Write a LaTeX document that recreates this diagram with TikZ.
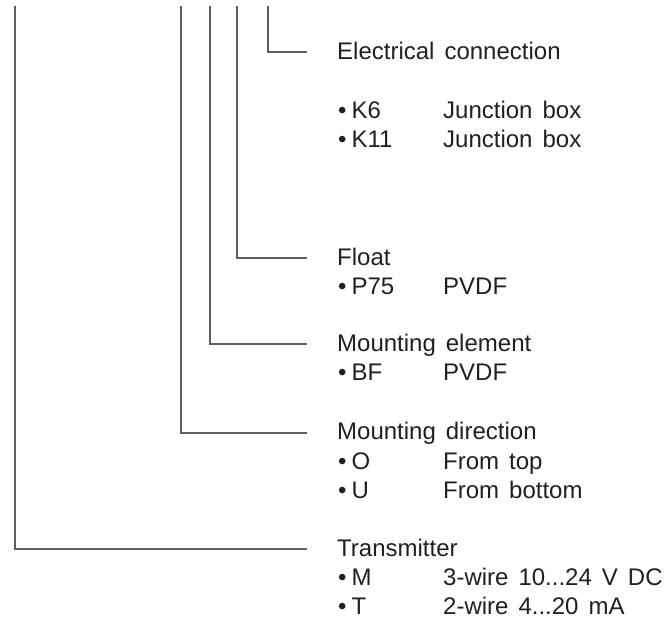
\documentclass[tikz,border=0pt]{standalone}
\usepackage{fontspec}
\setmainfont{Liberation Sans}[WordSpace=1.5]
\definecolor{leadgray}{RGB}{95,95,95}
\definecolor{textgray}{RGB}{35,31,32}

\begin{document}
\begin{tikzpicture}[x=1pt, y=-1pt,
  head/.style={anchor=base west, inner sep=0pt, font=\fontsize{24}{29}\selectfont, text=textgray},
  item/.style={head},
  lead/.style={leadgray, line width=1.3pt}]
  \useasboundingbox (0,0) rectangle (671,621);

  % Electrical connection
  \node[head] (elec) at (337,59) {Electrical connection};
  \node[item] (k6)  at (338,118) {\textbullet\hspace{5pt}K6};
  \node[item] (k6d) at (443,118) {Junction box};
  \node[item] (k11)  at (338,147) {\textbullet\hspace{5pt}K11};
  \node[item] (k11d) at (443,147) {Junction box};

  % Float
  \node[head] (float) at (337,265) {Float};
  \node[item] (p75)  at (338,294) {\textbullet\hspace{5pt}P75};
  \node[item] (p75d) at (443,294) {PVDF};

  % Mounting element
  \node[head] (melem) at (337,351) {Mounting element};
  \node[item] (bf)  at (338,380) {\textbullet\hspace{5pt}BF};
  \node[item] (bfd) at (443,380) {PVDF};

  % Mounting direction
  \node[head] (mdir) at (337,439) {Mounting direction};
  \node[item] (o)  at (338,469) {\textbullet\hspace{5pt}O};
  \node[item] (od) at (443,469) {From top};
  \node[item] (u)  at (338,498) {\textbullet\hspace{5pt}U};
  \node[item] (ud) at (443,498) {From bottom};

  % Transmitter
  \node[head] (trans) at (337,556) {Transmitter};
  \node[item] (m)  at (338,585) {\textbullet\hspace{5pt}M};
  \node[item] (md) at (443,585) {3-wire 10...24 V DC};
  \node[item] (t)  at (338,614) {\textbullet\hspace{5pt}T};
  \node[item] (td) at (443,614) {2-wire 4...20 mA};

  % leader lines
  \coordinate (elecTop)  at (268,6);
  \coordinate (floatTop) at (237,6);
  \coordinate (melemTop) at (210,6);
  \coordinate (mdirTop)  at (181,6);
  \coordinate (transTop) at (15,6);
  \draw[lead] (elecTop)  |- ([xshift=-30pt,yshift=7pt]elec.base west);
  \draw[lead] (floatTop) |- ([xshift=-30pt,yshift=7pt]float.base west);
  \draw[lead] (melemTop) |- ([xshift=-30pt,yshift=7pt]melem.base west);
  \draw[lead] (mdirTop)  |- ([xshift=-30pt,yshift=6pt]mdir.base west);
  \draw[lead] (transTop) |- ([xshift=-30pt,yshift=7pt]trans.base west);
\end{tikzpicture}
\end{document}
